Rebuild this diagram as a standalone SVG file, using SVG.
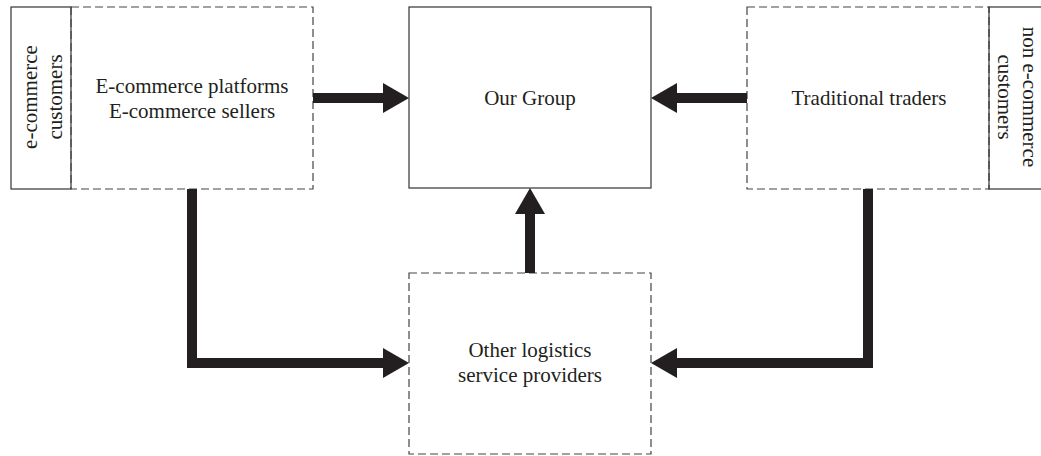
<svg xmlns="http://www.w3.org/2000/svg" width="1041" height="456" viewBox="0 0 1041 456">
<style>
.solid{fill:none;stroke:#333;stroke-width:1.2}
.dash{fill:none;stroke:#444;stroke-width:1.2;stroke-dasharray:8 4}
.lbl{font-family:"Liberation Serif","Times New Roman",serif;font-size:21px;fill:#231f20;text-anchor:middle}
.conn{fill:none;stroke:#231f20;stroke-width:10;stroke-linejoin:miter}
</style>
<defs>
<marker id="head" viewBox="0 0 26 30" refX="1" refY="15" markerWidth="26" markerHeight="30" markerUnits="userSpaceOnUse" orient="auto">
<path d="M0,0 L26,15 L0,30 z" fill="#231f20"/>
</marker>
</defs>
<rect width="1041" height="456" fill="#fff"/>
<g id="ecom-customers">
<rect class="solid" x="11" y="7" width="60" height="182"/>
<text class="lbl" transform="translate(37,97) rotate(-90)">e-commerce</text>
<text class="lbl" transform="translate(62,97) rotate(-90)">customers</text>
</g>
<g id="ecom-platforms">
<rect class="dash" x="71" y="7" width="242" height="182"/>
<text class="lbl" x="192" y="93">E-commerce platforms</text>
<text class="lbl" x="192" y="118">E-commerce sellers</text>
</g>
<g id="our-group">
<rect class="solid" x="409" y="7" width="242" height="181"/>
<text class="lbl" x="530" y="105">Our Group</text>
</g>
<g id="traditional-traders">
<rect class="dash" x="747" y="7" width="242" height="182"/>
<text class="lbl" x="869" y="105">Traditional traders</text>
</g>
<g id="non-ecom-customers">
<rect class="solid" x="989" y="7" width="60" height="182"/>
<text class="lbl" transform="translate(1023,97) rotate(90)">non e-commerce</text>
<text class="lbl" transform="translate(998,97) rotate(90)">customers</text>
</g>
<g id="other-logistics">
<rect class="dash" x="409" y="273" width="242" height="181"/>
<text class="lbl" x="530" y="357">Other logistics</text>
<text class="lbl" x="530" y="382">service providers</text>
</g>
<g id="connectors">
<path class="conn" d="M313,98 H384" marker-end="url(#head)"/>
<path class="conn" d="M747,98 H676" marker-end="url(#head)"/>
<path class="conn" d="M530,273 V213" marker-end="url(#head)"/>
<path class="conn" d="M192,189 V363 H384" marker-end="url(#head)"/>
<path class="conn" d="M868,189 V363 H676" marker-end="url(#head)"/>
</g>
</svg>
